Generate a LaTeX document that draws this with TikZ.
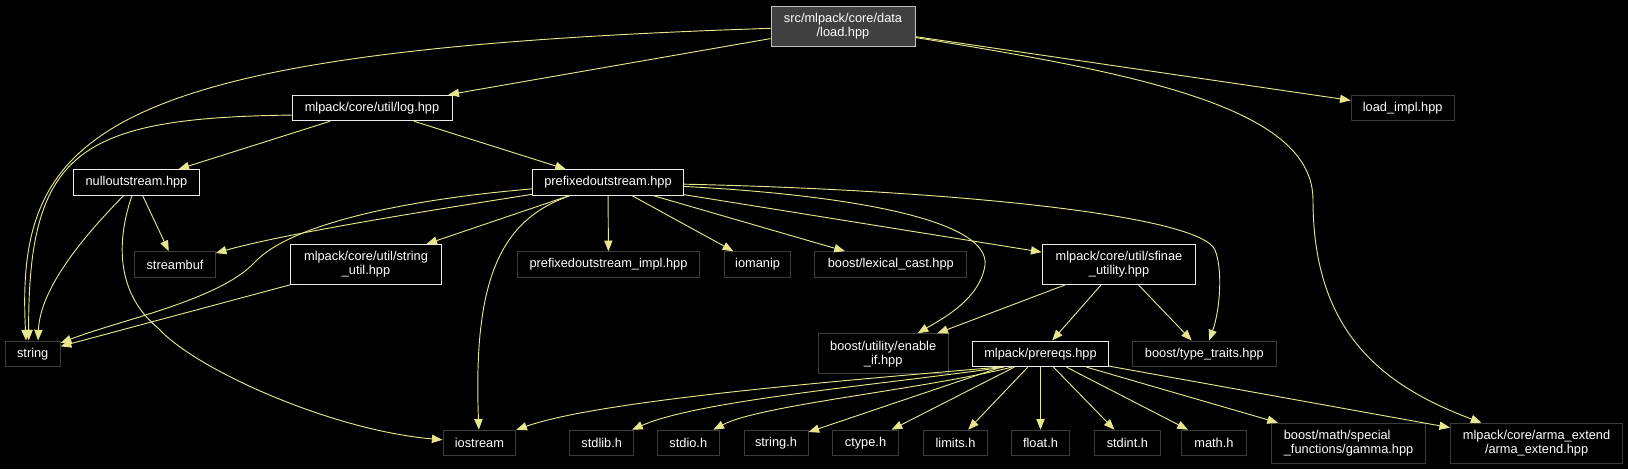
\documentclass[tikz,border=0pt]{standalone}
\usepackage{fontspec}
\setmainfont{Liberation Sans}
\usetikzlibrary{arrows.meta,positioning}
\definecolor{bgcolor}{RGB}{0,0,0}
\definecolor{edgecolor}{RGB}{230,230,140}
\definecolor{curfill}{RGB}{64,64,64}
\definecolor{curborder}{RGB}{191,191,191}
\definecolor{docborder}{RGB}{235,235,235}
\definecolor{extborder}{RGB}{60,60,60}
\tikzset{
filebox/.style={
  draw,
  line width=0.75pt,
  text=white,
  align=center,
  inner xsep=2pt,
  inner ysep=1pt,
  minimum height=19.2pt,
  font=\fontsize{9.6}{10.5}\selectfont
},
curfile/.style={
  filebox,
  fill=curfill,
  draw=curborder
},
docfile/.style={
  filebox,
  fill=bgcolor,
  draw=docborder
},
extfile/.style={
  filebox,
  fill=bgcolor,
  draw=extborder
},
twoline/.style={
  minimum height=30pt
},
include/.style={
  -{Triangle[length=8pt,width=6.2pt]},
  line width=0.7pt,
  draw=edgecolor
}
}

\begin{document}
\begin{tikzpicture}[x=0.75pt,y=-0.75pt]
\fill[bgcolor] (0,0) rectangle (1628,469);
\useasboundingbox (0,0) rectangle (1628,469);

\node[curfile, twoline, minimum width=108pt] (load) at (843,26) {src/mlpack/core/data\\/load.hpp};
\node[docfile, minimum width=120pt] (log) at (372,108) {mlpack/core/util/log.hpp};
\node[extfile, minimum width=77.3pt] (loadimpl) at (1402.7,108) {load\_impl.hpp};
\node[docfile, minimum width=94.5pt] (nullout) at (136.5,182.5) {nulloutstream.hpp};
\node[docfile, minimum width=113pt] (prefout) at (608,182.5) {prefixedoutstream.hpp};
\node[extfile, minimum width=60.4pt] (streambuf) at (175,264.5) {streambuf};
\node[docfile, twoline, minimum width=113pt] (strutil) at (366,264.5) {mlpack/core/util/string\\\_util.hpp};
\node[extfile, minimum width=136.9pt] (prefimpl) at (608.5,264.5) {prefixedoutstream\_impl.hpp};
\node[extfile, minimum width=49.8pt] (iomanip) at (757.6,264.5) {iomanip};
\node[extfile, minimum width=114pt] (lexcast) at (890.8,264.5) {boost/lexical\_cast.hpp};
\node[docfile, twoline, minimum width=115.3pt] (sfinae) at (1119,264.5) {mlpack/core/util/sfinae\\\_utility.hpp};
\node[extfile, minimum width=41.2pt] (string) at (32.7,353.8) {string};
\node[extfile, twoline, minimum width=97.8pt] (enableif) at (883.2,353.8) {boost/utility/enable\\\_if.hpp};
\node[docfile, minimum width=101.8pt] (prereqs) at (1040.5,353.8) {mlpack/prereqs.hpp};
\node[extfile, minimum width=107.7pt] (typetraits) at (1204.4,353.8) {boost/type\_traits.hpp};
\node[extfile, minimum width=54.5pt] (iostream) at (479.4,443) {iostream};
\node[extfile, minimum width=48.2pt] (stdlib) at (601.7,443) {stdlib.h};
\node[extfile, minimum width=46.3pt] (stdio) at (688.3,443) {stdio.h};
\node[extfile, minimum width=48pt] (stringh) at (776,443) {string.h};
\node[extfile, minimum width=49.1pt] (ctype) at (865.5,443) {ctype.h};
\node[extfile, minimum width=47.9pt] (limits) at (955.5,443) {limits.h};
\node[extfile, minimum width=44pt] (floath) at (1040.5,443) {float.h};
\node[extfile, minimum width=49.1pt] (stdint) at (1127.4,443) {stdint.h};
\node[extfile, minimum width=48.3pt] (mathh) at (1213.9,443) {math.h};
\node[extfile, twoline, align=left, minimum width=115.7pt] (gamma) at (1348.6,443.2) {boost/math/special\\\_functions/gamma.hpp};
\node[extfile, twoline, minimum width=129pt] (arma) at (1536.6,443.2) {mlpack/core/arma\_extend\\/arma\_extend.hpp};

\draw[include] (load) .. controls (100,50) and (15,130) .. ([xshift=-5pt]string.north);
\draw[include] (load) -- (log);
\draw[include] (load) -- (loadimpl);
\draw[include] (load) .. controls (1150,75) and (1313,110) .. (1313,200) .. controls (1313,330) and (1380,385) .. (arma);
\draw[include] (log.185) .. controls (80,118) and (28,150) .. ([xshift=-3pt]string.north);
\draw[include] (log) -- (nullout);
\draw[include] (log) -- (prefout);
\draw[include] (nullout) -- (streambuf);
\draw[include] (nullout) .. controls (80,240) and (40,290) .. ([xshift=4pt]string.north);
\draw[include] (nullout) .. controls (115,245) and (118,295) .. (158,328) .. controls (195,369) and (330,430) .. (iostream);
\draw[include] (prefout) .. controls (400,215) and (280,235) .. (streambuf);
\draw[include] (prefout) .. controls (400,200) and (290,225) .. (255,262) .. controls (220,300) and (120,320) .. (string);
\draw[include] (prefout) -- (strutil);
\draw[include] (prefout) .. controls (500,220) and (473,280) .. (iostream);
\draw[include] (prefout) -- (prefimpl);
\draw[include] (prefout) -- (iomanip);
\draw[include] (prefout) -- (lexcast);
\draw[include] (prefout) -- (sfinae);
\draw[include] (prefout) .. controls (850,195) and (990,220) .. (985,265) .. controls (980,300) and (940,320) .. (enableif);
\draw[include] (prefout) .. controls (950,190) and (1200,215) .. (1215,250) .. controls (1223,270) and (1220,310) .. (typetraits);
\draw[include] (strutil) -- (string);
\draw[include] (sfinae) -- (enableif);
\draw[include] (sfinae) -- (prereqs);
\draw[include] (sfinae) -- (typetraits);
\draw[include] (prereqs.198) .. controls (850,380) and (600,400) .. (iostream);
\draw[include] (prereqs.200) .. controls (880,385) and (700,400) .. (stdlib);
\draw[include] (prereqs.205) .. controls (920,390) and (760,405) .. (stdio);
\draw[include] (prereqs) -- (stringh);
\draw[include] (prereqs) -- (ctype);
\draw[include] (prereqs) -- (limits);
\draw[include] (prereqs) -- (floath);
\draw[include] (prereqs) -- (stdint);
\draw[include] (prereqs) -- (mathh);
\draw[include] (prereqs) -- (gamma);
\draw[include] (prereqs) -- (arma);
\end{tikzpicture}
\end{document}
